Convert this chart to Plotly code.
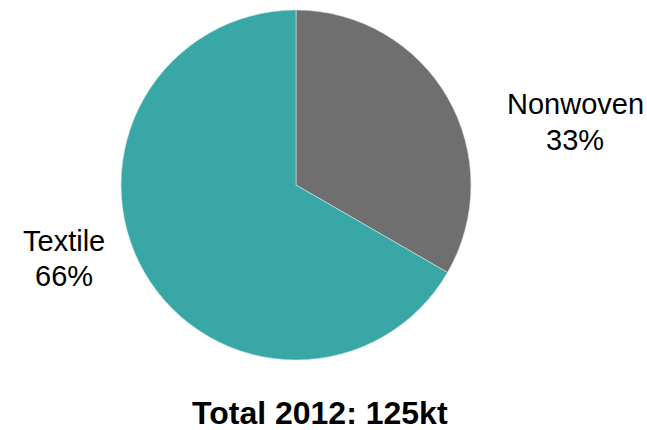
import plotly.graph_objects as go

# Fibre consumption split, 2012
categories = ["Nonwoven", "Textile"]
shares = [33, 66]
slice_colors = ["#6f6f6f", "#3aa7a7"]
title_text = "Total 2012: 125kt"

W, H = 647, 430
FONT = "Liberation Sans, Arial, sans-serif"

fig = go.Figure(
    go.Pie(
        labels=categories,
        values=shares,
        sort=False,
        direction="clockwise",
        rotation=0,
        textinfo="none",
        hoverinfo="label+percent",
        marker=dict(colors=slice_colors, line=dict(color="#cfe9e9", width=0.6)),
        domain=dict(x=[121 / W, 471 / W], y=[1 - 360 / H, 1 - 10 / H]),
        showlegend=False,
    )
)

# Outside labels: category name on one line, share on the next
label_pos = {"Nonwoven": (575, 104, 140), "Textile": (64, 241, 276)}
for name, val in zip(categories, shares):
    px, y1, y2 = label_pos[name]
    for txt, py in ((name, y1), (f"{val}%", y2)):
        fig.add_annotation(
            x=px / W, y=1 - py / H, xref="paper", yref="paper",
            text=txt, showarrow=False,
            xanchor="center", yanchor="middle", align="center",
            font=dict(family=FONT, size=29, color="#000000"),
        )

fig.add_annotation(
    x=320 / W, y=1 - 413 / H, xref="paper", yref="paper",
    text=f"<b>{title_text}</b>", showarrow=False,
    xanchor="center", yanchor="middle",
    font=dict(family=FONT, size=32, color="#000000"),
)

fig.update_layout(
    width=W, height=H,
    margin=dict(l=0, r=0, t=0, b=0),
    paper_bgcolor="#ffffff", plot_bgcolor="#ffffff",
)

fig.write_html("out.html")
